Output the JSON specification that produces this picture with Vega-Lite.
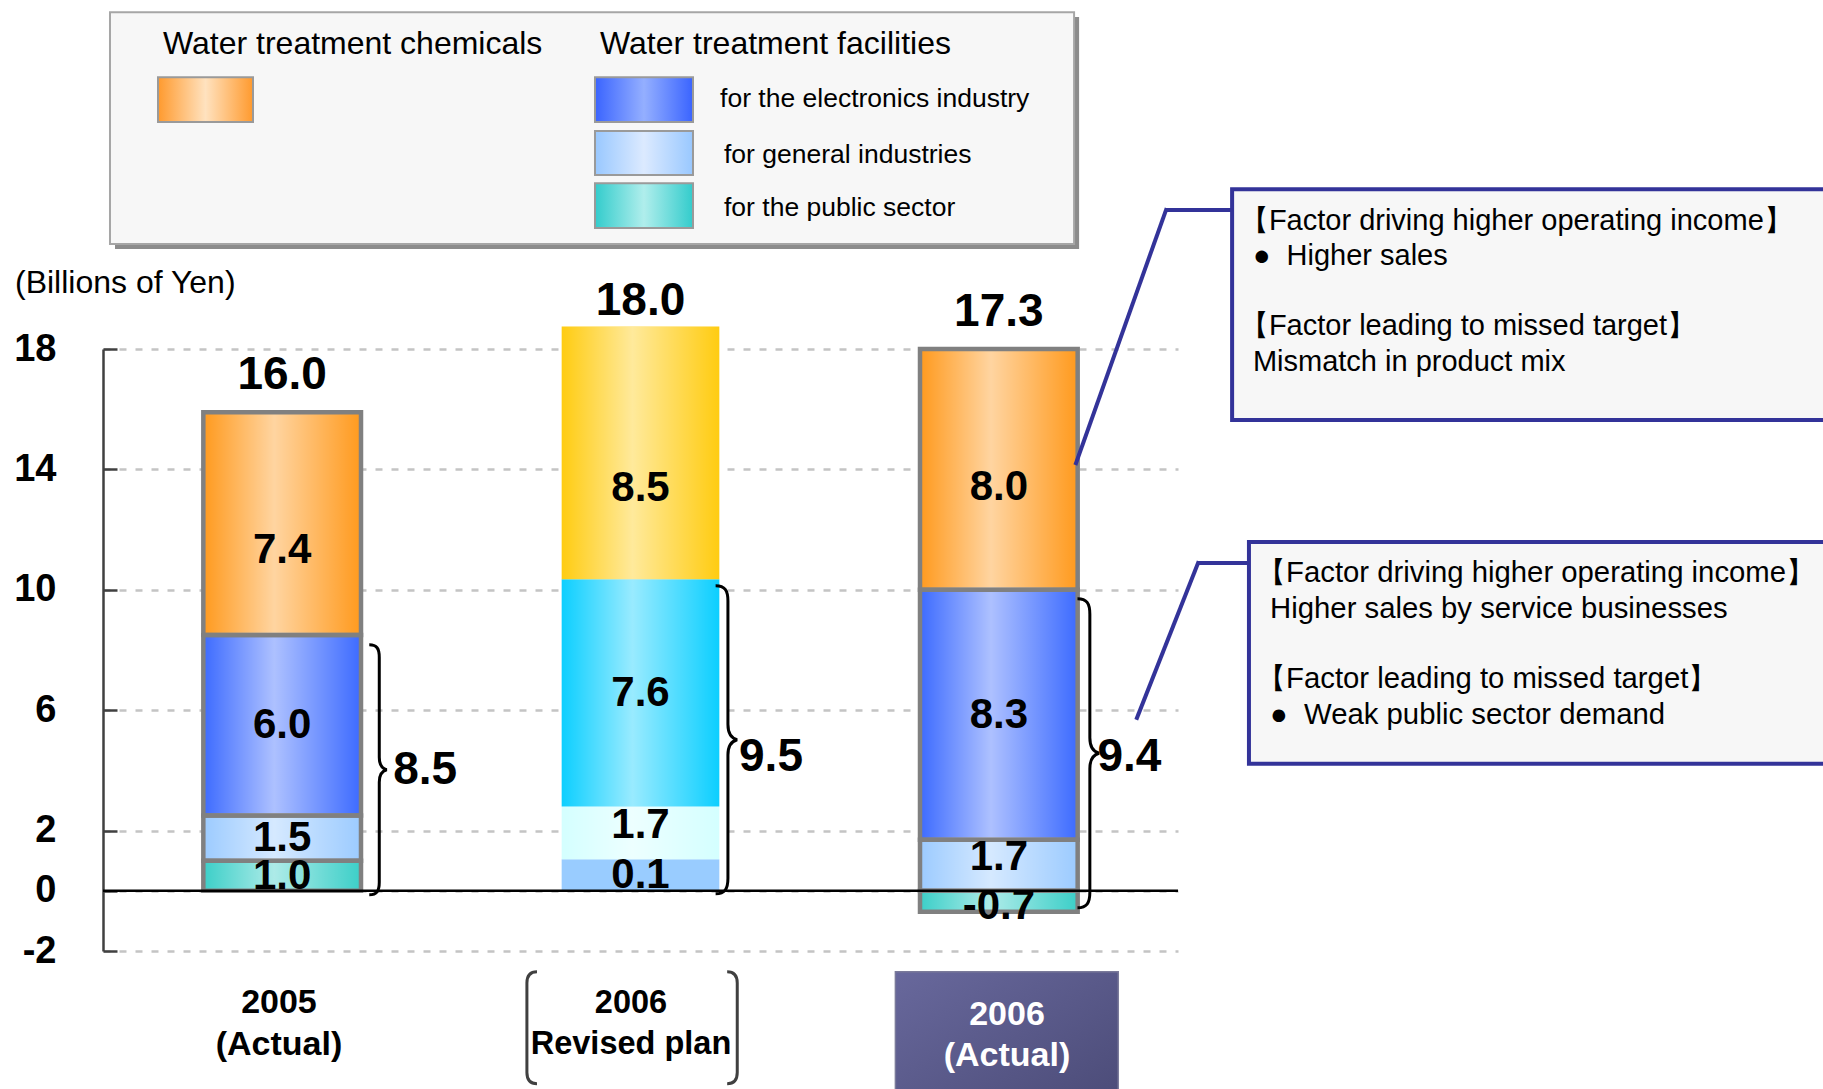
{
  "$schema": "https://vega.github.io/schema/vega-lite/v6.json",
  "width": 1075,
  "height": 602,
  "autosize": {"type": "none"},
  "padding": {"left": 103, "top": 349, "right": 645, "bottom": 138},
  "background": "white",
  "config": {"view": {"stroke": null}, "font": "Liberation Sans"},
  "datasets": {
    "segments": [
      {"period": "2005 (Actual)", "status": "Actual", "segment": "Public", "value": 1.0, "label": "1.0"},
      {"period": "2005 (Actual)", "status": "Actual", "segment": "General", "value": 1.5, "label": "1.5"},
      {"period": "2005 (Actual)", "status": "Actual", "segment": "Electronics", "value": 6.0, "label": "6.0"},
      {"period": "2005 (Actual)", "status": "Actual", "segment": "Chemicals", "value": 7.4, "label": "7.4", "total": "16.0"},
      {"period": "2006 Revised plan", "status": "Plan", "segment": "Public", "value": 1.05, "label": "0.1"},
      {"period": "2006 Revised plan", "status": "Plan", "segment": "General", "value": 1.75, "label": "1.7"},
      {"period": "2006 Revised plan", "status": "Plan", "segment": "Electronics", "value": 7.55, "label": "7.6"},
      {"period": "2006 Revised plan", "status": "Plan", "segment": "Chemicals", "value": 8.4, "label": "8.5", "total": "18.0"},
      {"period": "2006 (Actual)", "status": "Actual", "segment": "Public", "value": -0.7, "label": "-0.7"},
      {"period": "2006 (Actual)", "status": "Actual", "segment": "General", "value": 1.7, "label": "1.7"},
      {"period": "2006 (Actual)", "status": "Actual", "segment": "Electronics", "value": 8.3, "label": "8.3"},
      {"period": "2006 (Actual)", "status": "Actual", "segment": "Chemicals", "value": 8.0, "label": "8.0", "total": "17.3"}
    ],
    "facilities": [
      {"period": "2005 (Actual)", "total": "8.5"},
      {"period": "2006 Revised plan", "total": "9.5"},
      {"period": "2006 (Actual)", "total": "9.4"}
    ],
    "categories": [
      {"period": "2005 (Actual)", "lines": ["2005", "(Actual)"]},
      {"period": "2006 Revised plan", "lines": ["2006", "Revised plan"]},
      {"period": "2006 (Actual)", "lines": ["2006", "(Actual)"]}
    ]
  },
  "resolve": {"scale": {"x": "independent"}},
  "layer": [
    {
      "layer": [
        {
          "data": {"name": "segments"},
          "transform": [
            {"stack": "value", "groupby": ["period"], "sort": [{"field": "segment", "order": "descending"}], "as": ["y0", "y1"]},
            {"filter": "datum.status === 'Actual'"}
          ],
          "mark": {"type": "bar", "width": {"band": 0.44}},
          "encoding": {
            "x": {"field": "period", "type": "nominal", "scale": {"domain": ["2005 (Actual)", "2006 Revised plan", "2006 (Actual)"], "paddingInner": 0, "paddingOuter": 0}, "axis": null},
            "y": {"field": "y0", "type": "quantitative", "stack": null, "title": null, "scale": {"domain": [-2, 18], "nice": false, "zero": false},
              "axis": {"values": [-2, 0, 2, 6, 10, 14, 18], "title": null, "grid": true, "gridDash": [7, 9], "gridColor": "#c4c4c4", "gridWidth": 2.5,
                "domainColor": "#404040", "domainWidth": 2.5, "tickColor": "#404040", "tickWidth": 2.5, "tickSize": -14,
                "labelExpr": "'' + datum.value",
                "labelFont": "Liberation Sans", "labelFontWeight": "bold", "labelFontSize": 38, "labelColor": "black", "labelPadding": 61}},
            "y2": {"field": "y1"},
            "color": {"field": "segment", "type": "nominal", "scale": {"domain": ["Chemicals", "Electronics", "General", "Public"], "range": ["#ff9a1e", "#3d6bff", "#9ccbff", "#3ccfc8"]}, "legend": null}
          }
        },
        {
          "data": {"name": "segments"},
          "transform": [
            {"stack": "value", "groupby": ["period"], "sort": [{"field": "segment", "order": "descending"}], "as": ["y0", "y1"]},
            {"filter": "datum.status === 'Plan'"}
          ],
          "mark": {"type": "bar", "width": {"band": 0.44}},
          "encoding": {
            "x": {"field": "period", "type": "nominal", "axis": null},
            "y": {"field": "y0", "type": "quantitative", "stack": null, "title": null},
            "y2": {"field": "y1"},
            "fill": {"field": "segment", "type": "nominal", "scale": {"domain": ["Chemicals", "Electronics", "General", "Public"], "range": ["#ffcc11", "#0ccfff", "#d4ffff", "#99ccff"]}, "legend": null}
          }
        },
        {
          "data": {"name": "segments"},
          "transform": [
            {"stack": "value", "groupby": ["period"], "sort": [{"field": "segment", "order": "descending"}], "as": ["y0", "y1"]}
          ],
          "mark": {"type": "bar", "width": {"band": 0.44}, "strokeWidth": 4.5,
            "fill": {"gradient": "linear", "x1": 0, "y1": 0, "x2": 1, "y2": 0, "stops": [
              {"offset": 0, "color": "rgba(255,255,255,0)"},
              {"offset": 0.45, "color": "rgba(255,255,255,0.58)"},
              {"offset": 1, "color": "rgba(255,255,255,0)"}]}},
          "encoding": {
            "x": {"field": "period", "type": "nominal", "axis": null},
            "y": {"field": "y0", "type": "quantitative", "stack": null, "title": null},
            "y2": {"field": "y1"},
            "stroke": {"condition": {"test": "datum.status === 'Plan'", "value": "transparent"}, "value": "#808080"},
            "fillOpacity": {"condition": {"test": "datum.status === 'Plan' && datum.segment === 'Public'", "value": 0}, "value": 1}
          }
        },
        {
          "data": {"values": [{}]},
          "mark": {"type": "rule", "color": "black", "strokeWidth": 2.5},
          "encoding": {"y": {"datum": 0, "type": "quantitative", "title": null}}
        },
        {
          "data": {"name": "segments"},
          "transform": [
            {"stack": "value", "groupby": ["period"], "sort": [{"field": "segment", "order": "descending"}], "as": ["y0", "y1"]},
            {"filter": "datum.segment !== 'Chemicals' && !(datum.segment === 'General' && datum.period !== '2005 (Actual)') && !(datum.segment === 'Public' && datum.period === '2006 (Actual)')"},
            {"fold": ["y0", "y1"], "as": ["edge", "ypos"]},
            {"aggregate": [{"op": "mean", "field": "ypos", "as": "mid"}], "groupby": ["period", "segment", "label"]}
          ],
          "mark": {"type": "text", "fontSize": 42, "fontWeight": "bold", "baseline": "middle", "color": "black"},
          "encoding": {
            "x": {"field": "period", "type": "nominal", "axis": null},
            "y": {"field": "mid", "type": "quantitative", "title": null},
            "text": {"field": "label"}
          }
        },
        {
          "data": {"name": "segments"},
          "transform": [
            {"stack": "value", "groupby": ["period"], "sort": [{"field": "segment", "order": "descending"}], "as": ["y0", "y1"]},
            {"filter": "datum.segment === 'General' && datum.period !== '2005 (Actual)'"},
            {"fold": ["y0", "y1"], "as": ["edge", "ypos"]},
            {"aggregate": [{"op": "mean", "field": "ypos", "as": "mid"}], "groupby": ["period", "segment", "label"]}
          ],
          "mark": {"type": "text", "fontSize": 42, "fontWeight": "bold", "baseline": "middle", "color": "black", "dy": -8},
          "encoding": {
            "x": {"field": "period", "type": "nominal", "axis": null},
            "y": {"field": "mid", "type": "quantitative", "title": null},
            "text": {"field": "label"}
          }
        },
        {
          "data": {"name": "segments"},
          "transform": [
            {"stack": "value", "groupby": ["period"], "sort": [{"field": "segment", "order": "descending"}], "as": ["y0", "y1"]},
            {"filter": "datum.segment === 'Public' && datum.period === '2006 (Actual)'"},
            {"fold": ["y0", "y1"], "as": ["edge", "ypos"]},
            {"aggregate": [{"op": "mean", "field": "ypos", "as": "mid"}], "groupby": ["period", "segment", "label"]}
          ],
          "mark": {"type": "text", "fontSize": 42, "fontWeight": "bold", "baseline": "middle", "color": "black", "dy": 5},
          "encoding": {
            "x": {"field": "period", "type": "nominal", "axis": null},
            "y": {"field": "mid", "type": "quantitative", "title": null},
            "text": {"field": "label"}
          }
        },
        {
          "data": {"name": "segments"},
          "transform": [
            {"stack": "value", "groupby": ["period"], "sort": [{"field": "segment", "order": "descending"}], "as": ["y0", "y1"]},
            {"filter": "datum.segment === 'Chemicals' && datum.period === '2005 (Actual)'"},
            {"fold": ["y0", "y1"], "as": ["edge", "ypos"]},
            {"aggregate": [{"op": "mean", "field": "ypos", "as": "mid"}], "groupby": ["period", "segment", "label"]}
          ],
          "mark": {"type": "text", "fontSize": 42, "fontWeight": "bold", "baseline": "middle", "color": "black", "dy": 26},
          "encoding": {
            "x": {"field": "period", "type": "nominal", "axis": null},
            "y": {"field": "mid", "type": "quantitative", "title": null},
            "text": {"field": "label"}
          }
        },
        {
          "data": {"name": "segments"},
          "transform": [
            {"stack": "value", "groupby": ["period"], "sort": [{"field": "segment", "order": "descending"}], "as": ["y0", "y1"]},
            {"filter": "datum.segment === 'Chemicals' && datum.period === '2006 Revised plan'"},
            {"fold": ["y0", "y1"], "as": ["edge", "ypos"]},
            {"aggregate": [{"op": "mean", "field": "ypos", "as": "mid"}], "groupby": ["period", "segment", "label"]}
          ],
          "mark": {"type": "text", "fontSize": 42, "fontWeight": "bold", "baseline": "middle", "color": "black", "dy": 35},
          "encoding": {
            "x": {"field": "period", "type": "nominal", "axis": null},
            "y": {"field": "mid", "type": "quantitative", "title": null},
            "text": {"field": "label"}
          }
        },
        {
          "data": {"name": "segments"},
          "transform": [
            {"stack": "value", "groupby": ["period"], "sort": [{"field": "segment", "order": "descending"}], "as": ["y0", "y1"]},
            {"filter": "datum.segment === 'Chemicals' && datum.period === '2006 (Actual)'"},
            {"fold": ["y0", "y1"], "as": ["edge", "ypos"]},
            {"aggregate": [{"op": "mean", "field": "ypos", "as": "mid"}], "groupby": ["period", "segment", "label"]}
          ],
          "mark": {"type": "text", "fontSize": 42, "fontWeight": "bold", "baseline": "middle", "color": "black", "dy": 18},
          "encoding": {
            "x": {"field": "period", "type": "nominal", "axis": null},
            "y": {"field": "mid", "type": "quantitative", "title": null},
            "text": {"field": "label"}
          }
        },
        {
          "data": {"name": "segments"},
          "transform": [
            {"stack": "value", "groupby": ["period"], "sort": [{"field": "segment", "order": "descending"}], "as": ["y0", "y1"]},
            {"filter": "isValid(datum.total) && datum.status === 'Actual'"}
          ],
          "mark": {"type": "text", "fontSize": 46, "fontWeight": "bold", "baseline": "middle", "color": "black", "dy": -37},
          "encoding": {
            "x": {"field": "period", "type": "nominal", "axis": null},
            "y": {"field": "y1", "type": "quantitative", "title": null},
            "text": {"field": "total"}
          }
        },
        {
          "data": {"name": "segments"},
          "transform": [
            {"stack": "value", "groupby": ["period"], "sort": [{"field": "segment", "order": "descending"}], "as": ["y0", "y1"]},
            {"filter": "isValid(datum.total) && datum.status === 'Plan'"}
          ],
          "mark": {"type": "text", "fontSize": 46, "fontWeight": "bold", "baseline": "middle", "color": "black", "dy": -25},
          "encoding": {
            "x": {"field": "period", "type": "nominal", "axis": null},
            "y": {"field": "y1", "type": "quantitative", "title": null},
            "text": {"field": "total"}
          }
        },
        {
          "data": {"name": "facilities"},
          "transform": [{"filter": "datum.period === '2005 (Actual)'"}],
          "mark": {"type": "point", "shape": "M -0.08 -1 C -0.02 -1 0 -0.97 0 -0.9 L 0 -0.1 C 0 -0.04 0.02 -0.01 0.06 0 C 0.02 0.01 0 0.04 0 0.1 L 0 0.9 C 0 0.97 -0.02 1 -0.08 1", "size": 62500, "filled": false, "stroke": "black", "strokeWidth": 3, "opacity": 1},
          "encoding": {
            "x": {"field": "period", "type": "nominal", "bandPosition": 0.771, "axis": null},
            "y": {"datum": 4.02, "type": "quantitative", "title": null}
          }
        },
        {
          "data": {"name": "facilities"},
          "transform": [{"filter": "datum.period === '2006 Revised plan'"}],
          "mark": {"type": "point", "shape": "M -0.08 -1 C -0.02 -1 0 -0.97 0 -0.9 L 0 -0.1 C 0 -0.04 0.02 -0.01 0.06 0 C 0.02 0.01 0 0.04 0 0.1 L 0 0.9 C 0 0.97 -0.02 1 -0.08 1", "size": 94864, "filled": false, "stroke": "black", "strokeWidth": 3, "opacity": 1},
          "encoding": {
            "x": {"field": "period", "type": "nominal", "bandPosition": 0.744, "axis": null},
            "y": {"datum": 5.02, "type": "quantitative", "title": null}
          }
        },
        {
          "data": {"name": "facilities"},
          "transform": [{"filter": "datum.period === '2006 (Actual)'"}],
          "mark": {"type": "point", "shape": "M -0.08 -1 C -0.02 -1 0 -0.97 0 -0.9 L 0 -0.1 C 0 -0.04 0.02 -0.01 0.06 0 C 0.02 0.01 0 0.04 0 0.1 L 0 0.9 C 0 0.97 -0.02 1 -0.08 1", "size": 95481, "filled": false, "stroke": "black", "strokeWidth": 3, "opacity": 1},
          "encoding": {
            "x": {"field": "period", "type": "nominal", "bandPosition": 0.754, "axis": null},
            "y": {"datum": 4.57, "type": "quantitative", "title": null}
          }
        },
        {
          "data": {"name": "facilities"},
          "transform": [{"filter": "datum.period === '2005 (Actual)'"}],
          "mark": {"type": "text", "fontSize": 46, "fontWeight": "bold", "align": "left", "baseline": "middle", "color": "black"},
          "encoding": {
            "x": {"field": "period", "type": "nominal", "bandPosition": 0.81, "axis": null},
            "y": {"datum": 4.0, "type": "quantitative", "title": null},
            "text": {"field": "total"}
          }
        },
        {
          "data": {"name": "facilities"},
          "transform": [{"filter": "datum.period !== '2005 (Actual)'"}],
          "mark": {"type": "text", "fontSize": 46, "fontWeight": "bold", "align": "left", "baseline": "middle", "color": "black"},
          "encoding": {
            "x": {"field": "period", "type": "nominal", "bandPosition": 0.775, "axis": null},
            "y": {"datum": 4.45, "type": "quantitative", "title": null},
            "text": {"field": "total"}
          }
        },
        {
          "data": {"name": "categories"},
          "transform": [{"filter": "datum.period === '2005 (Actual)'"}],
          "mark": {"type": "text", "fontSize": 34, "fontWeight": "bold", "align": "center", "baseline": "top", "lineHeight": 42, "color": "black"},
          "encoding": {
            "x": {"field": "period", "type": "nominal", "bandPosition": 0.491, "axis": null},
            "y": {"datum": -3.15, "type": "quantitative", "title": null},
            "text": {"field": "lines"}
          }
        },
        {
          "data": {"name": "categories"},
          "transform": [{"filter": "datum.period === '2006 Revised plan'"}],
          "mark": {"type": "text", "fontSize": 32.5, "fontWeight": "bold", "align": "center", "baseline": "top", "lineHeight": 41, "color": "black"},
          "encoding": {
            "x": {"field": "period", "type": "nominal", "bandPosition": 0.4735, "axis": null},
            "y": {"datum": -3.2, "type": "quantitative", "title": null},
            "text": {"field": "lines"}
          }
        },
        {
          "data": {"name": "categories"},
          "transform": [{"filter": "datum.period === '2006 Revised plan'"}],
          "mark": {"type": "point", "shape": "M 0.18 -1 C 0.05 -1 0 -0.93 0 -0.8 L 0 0.8 C 0 0.93 0.05 1 0.18 1", "size": 12544, "filled": false, "stroke": "#404040", "strokeWidth": 3, "opacity": 1},
          "encoding": {
            "x": {"field": "period", "type": "nominal", "bandPosition": 0.183, "axis": null},
            "y": {"datum": -4.55, "type": "quantitative", "title": null}
          }
        },
        {
          "data": {"name": "categories"},
          "transform": [{"filter": "datum.period === '2006 Revised plan'"}],
          "mark": {"type": "point", "shape": "M -0.18 -1 C -0.05 -1 0 -0.93 0 -0.8 L 0 0.8 C 0 0.93 -0.05 1 -0.18 1", "size": 12544, "filled": false, "stroke": "#404040", "strokeWidth": 3, "opacity": 1},
          "encoding": {
            "x": {"field": "period", "type": "nominal", "bandPosition": 0.77, "axis": null},
            "y": {"datum": -4.55, "type": "quantitative", "title": null}
          }
        },
        {
          "data": {"name": "categories"},
          "transform": [{"filter": "datum.period === '2006 (Actual)'"}],
          "mark": {"type": "bar", "width": {"band": 0.622}, "xOffset": 8, "stroke": "#7a7a9a", "strokeWidth": 1.5,
            "fill": {"gradient": "linear", "x1": 0, "y1": 0, "x2": 1, "y2": 1, "stops": [
              {"offset": 0, "color": "#68689c"},
              {"offset": 1, "color": "#4a4a76"}]}},
          "encoding": {
            "x": {"field": "period", "type": "nominal", "axis": null},
            "y": {"datum": -2.69, "type": "quantitative", "title": null},
            "y2": {"datum": -7.5}
          }
        },
        {
          "data": {"name": "categories"},
          "transform": [{"filter": "datum.period === '2006 (Actual)'"}],
          "mark": {"type": "text", "fontSize": 34, "fontWeight": "bold", "align": "center", "baseline": "top", "lineHeight": 41, "color": "white"},
          "encoding": {
            "x": {"field": "period", "type": "nominal", "bandPosition": 0.5228, "axis": null},
            "y": {"datum": -3.55, "type": "quantitative", "title": null},
            "text": {"field": "lines"}
          }
        }
      ]
    },
    {
      "layer": [
        {
          "data": {"values": [{}]},
          "mark": {"type": "text", "fontSize": 32, "align": "left", "baseline": "middle", "color": "black"},
          "encoding": {
            "x": {"datum": -0.2456, "type": "quantitative", "scale": {"domain": [0, 3], "nice": false, "zero": false}, "axis": null},
            "y": {"datum": 20.19, "type": "quantitative", "title": null},
            "text": {"value": "(Billions of Yen)"}
          }
        },
        {
          "data": {"values": [{}]},
          "mark": {"type": "rect", "fill": "#8c8c8c"},
          "encoding": {
            "x": {"datum": 0.0335, "type": "quantitative", "axis": null},
            "x2": {"datum": 2.724},
            "y": {"datum": 29.03, "type": "quantitative", "title": null},
            "y2": {"datum": 21.32}
          }
        },
        {
          "data": {"values": [{}]},
          "mark": {"type": "rect", "fill": "#f7f7f7", "stroke": "#a6a6a6", "strokeWidth": 2},
          "encoding": {
            "x": {"datum": 0.0195, "type": "quantitative", "axis": null},
            "x2": {"datum": 2.71},
            "y": {"datum": 29.19, "type": "quantitative", "title": null},
            "y2": {"datum": 21.49}
          }
        },
        {
          "data": {"values": [{}]},
          "mark": {"type": "text", "fontSize": 32, "align": "left", "baseline": "middle", "color": "black"},
          "encoding": {
            "x": {"datum": 0.1674, "type": "quantitative", "axis": null},
            "y": {"datum": 28.14, "type": "quantitative", "title": null},
            "text": {"value": "Water treatment chemicals"}
          }
        },
        {
          "data": {"values": [{}]},
          "mark": {"type": "text", "fontSize": 32, "align": "left", "baseline": "middle", "color": "black"},
          "encoding": {
            "x": {"datum": 1.387, "type": "quantitative", "axis": null},
            "y": {"datum": 28.14, "type": "quantitative", "title": null},
            "text": {"value": "Water treatment facilities"}
          }
        },
        {
          "data": {"values": [{}]},
          "mark": {"type": "rect", "stroke": "#9a9a9a", "strokeWidth": 2,
            "fill": {"gradient": "linear", "x1": 0, "y1": 0, "x2": 1, "y2": 0, "stops": [
              {"offset": 0, "color": "#ff9a2e"}, {"offset": 0.5, "color": "#ffe2bf"}, {"offset": 1, "color": "#ff9a2e"}]}},
          "encoding": {
            "x": {"datum": 0.1535, "type": "quantitative", "axis": null},
            "x2": {"datum": 0.4186},
            "y": {"datum": 27.03, "type": "quantitative", "title": null},
            "y2": {"datum": 25.54}
          }
        },
        {
          "data": {"values": [{}]},
          "mark": {"type": "rect", "stroke": "#9a9a9a", "strokeWidth": 2,
            "fill": {"gradient": "linear", "x1": 0, "y1": 0, "x2": 1, "y2": 0, "stops": [
              {"offset": 0, "color": "#3a64ff"}, {"offset": 0.5, "color": "#94afff"}, {"offset": 1, "color": "#3a64ff"}]}},
          "encoding": {
            "x": {"datum": 1.373, "type": "quantitative", "axis": null},
            "x2": {"datum": 1.6465},
            "y": {"datum": 27.03, "type": "quantitative", "title": null},
            "y2": {"datum": 25.54}
          }
        },
        {
          "data": {"values": [{}]},
          "mark": {"type": "rect", "stroke": "#9a9a9a", "strokeWidth": 2,
            "fill": {"gradient": "linear", "x1": 0, "y1": 0, "x2": 1, "y2": 0, "stops": [
              {"offset": 0, "color": "#99c8ff"}, {"offset": 0.5, "color": "#dceaff"}, {"offset": 1, "color": "#99c8ff"}]}},
          "encoding": {
            "x": {"datum": 1.373, "type": "quantitative", "axis": null},
            "x2": {"datum": 1.6465},
            "y": {"datum": 25.24, "type": "quantitative", "title": null},
            "y2": {"datum": 23.78}
          }
        },
        {
          "data": {"values": [{}]},
          "mark": {"type": "rect", "stroke": "#9a9a9a", "strokeWidth": 2,
            "fill": {"gradient": "linear", "x1": 0, "y1": 0, "x2": 1, "y2": 0, "stops": [
              {"offset": 0, "color": "#33cccc"}, {"offset": 0.5, "color": "#b0eeec"}, {"offset": 1, "color": "#33cccc"}]}},
          "encoding": {
            "x": {"datum": 1.373, "type": "quantitative", "axis": null},
            "x2": {"datum": 1.6465},
            "y": {"datum": 23.51, "type": "quantitative", "title": null},
            "y2": {"datum": 22.02}
          }
        },
        {
          "data": {"values": [{}]},
          "mark": {"type": "text", "fontSize": 26.5, "align": "left", "baseline": "middle", "color": "black"},
          "encoding": {
            "x": {"datum": 1.722, "type": "quantitative", "axis": null},
            "y": {"datum": 26.32, "type": "quantitative", "title": null},
            "text": {"value": "for the electronics industry"}
          }
        },
        {
          "data": {"values": [{}]},
          "mark": {"type": "text", "fontSize": 26.5, "align": "left", "baseline": "middle", "color": "black"},
          "encoding": {
            "x": {"datum": 1.733, "type": "quantitative", "axis": null},
            "y": {"datum": 24.43, "type": "quantitative", "title": null},
            "text": {"value": "for general industries"}
          }
        },
        {
          "data": {"values": [{}]},
          "mark": {"type": "text", "fontSize": 26.5, "align": "left", "baseline": "middle", "color": "black"},
          "encoding": {
            "x": {"datum": 1.733, "type": "quantitative", "axis": null},
            "y": {"datum": 22.7, "type": "quantitative", "title": null},
            "text": {"value": "for the public sector"}
          }
        },
        {
          "data": {"values": [{}]},
          "mark": {"type": "rect", "fill": "#f7f7f7", "stroke": "#333399", "strokeWidth": 4},
          "encoding": {
            "x": {"datum": 3.151, "type": "quantitative", "axis": null},
            "x2": {"datum": 5},
            "y": {"datum": 23.31, "type": "quantitative", "title": null},
            "y2": {"datum": 15.64}
          }
        },
        {
          "data": {"values": [{}]},
          "mark": {"type": "rect", "fill": "#f7f7f7", "stroke": "#333399", "strokeWidth": 4},
          "encoding": {
            "x": {"datum": 3.198, "type": "quantitative", "axis": null},
            "x2": {"datum": 5},
            "y": {"datum": 11.59, "type": "quantitative", "title": null},
            "y2": {"datum": 4.22}
          }
        },
        {
          "data": {"values": [{}]},
          "mark": {"type": "text", "fontSize": 29, "align": "left", "baseline": "middle", "color": "black", "dx": -13},
          "encoding": {
            "x": {"datum": 3.209, "type": "quantitative", "axis": null},
            "y": {"datum": 22.26, "type": "quantitative", "title": null},
            "text": {"value": "【Factor driving higher operating income】"}
          }
        },
        {
          "data": {"values": [{}]},
          "mark": {"type": "text", "fontSize": 29, "align": "left", "baseline": "middle", "color": "black"},
          "encoding": {
            "x": {"datum": 3.209, "type": "quantitative", "axis": null},
            "y": {"datum": 21.1, "type": "quantitative", "title": null},
            "text": {"value": "\u00a0●\u00a0 Higher sales"}
          }
        },
        {
          "data": {"values": [{}]},
          "mark": {"type": "text", "fontSize": 29, "align": "left", "baseline": "middle", "color": "black", "dx": -13},
          "encoding": {
            "x": {"datum": 3.209, "type": "quantitative", "axis": null},
            "y": {"datum": 18.77, "type": "quantitative", "title": null},
            "text": {"value": "【Factor leading to missed target】"}
          }
        },
        {
          "data": {"values": [{}]},
          "mark": {"type": "text", "fontSize": 29, "align": "left", "baseline": "middle", "color": "black"},
          "encoding": {
            "x": {"datum": 3.209, "type": "quantitative", "axis": null},
            "y": {"datum": 17.57, "type": "quantitative", "title": null},
            "text": {"value": "Mismatch in product mix"}
          }
        },
        {
          "data": {"values": [{}]},
          "mark": {"type": "text", "fontSize": 29.3, "align": "left", "baseline": "middle", "color": "black", "dx": -13},
          "encoding": {
            "x": {"datum": 3.257, "type": "quantitative", "axis": null},
            "y": {"datum": 10.57, "type": "quantitative", "title": null},
            "text": {"value": "【Factor driving higher operating income】"}
          }
        },
        {
          "data": {"values": [{}]},
          "mark": {"type": "text", "fontSize": 29.3, "align": "left", "baseline": "middle", "color": "black"},
          "encoding": {
            "x": {"datum": 3.257, "type": "quantitative", "axis": null},
            "y": {"datum": 9.376, "type": "quantitative", "title": null},
            "text": {"value": "Higher sales by service businesses"}
          }
        },
        {
          "data": {"values": [{}]},
          "mark": {"type": "text", "fontSize": 29.3, "align": "left", "baseline": "middle", "color": "black", "dx": -13},
          "encoding": {
            "x": {"datum": 3.257, "type": "quantitative", "axis": null},
            "y": {"datum": 7.05, "type": "quantitative", "title": null},
            "text": {"value": "【Factor leading to missed target】"}
          }
        },
        {
          "data": {"values": [{}]},
          "mark": {"type": "text", "fontSize": 29.3, "align": "left", "baseline": "middle", "color": "black"},
          "encoding": {
            "x": {"datum": 3.257, "type": "quantitative", "axis": null},
            "y": {"datum": 5.855, "type": "quantitative", "title": null},
            "text": {"value": "\u00a0●\u00a0 Weak public sector demand"}
          }
        },
        {
          "data": {"values": [{}]},
          "mark": {"type": "rule", "color": "#333399", "strokeWidth": 4, "strokeCap": "square"},
          "encoding": {
            "x": {"datum": 2.7154, "type": "quantitative", "axis": null},
            "y": {"datum": 14.21, "type": "quantitative", "title": null},
            "x2": {"datum": 2.9666},
            "y2": {"datum": 22.62}
          }
        },
        {
          "data": {"values": [{}]},
          "mark": {"type": "rule", "color": "#333399", "strokeWidth": 4},
          "encoding": {
            "x": {"datum": 2.9666, "type": "quantitative", "axis": null},
            "y": {"datum": 22.62, "type": "quantitative", "title": null},
            "x2": {"datum": 3.151},
            "y2": {"datum": 22.62}
          }
        },
        {
          "data": {"values": [{}]},
          "mark": {"type": "rule", "color": "#333399", "strokeWidth": 4, "strokeCap": "square"},
          "encoding": {
            "x": {"datum": 2.8856, "type": "quantitative", "axis": null},
            "y": {"datum": 5.746, "type": "quantitative", "title": null},
            "x2": {"datum": 3.0559},
            "y2": {"datum": 10.89}
          }
        },
        {
          "data": {"values": [{}]},
          "mark": {"type": "rule", "color": "#333399", "strokeWidth": 4},
          "encoding": {
            "x": {"datum": 3.0559, "type": "quantitative", "axis": null},
            "y": {"datum": 10.89, "type": "quantitative", "title": null},
            "x2": {"datum": 3.198},
            "y2": {"datum": 10.89}
          }
        }
      ]
    }
  ]
}
